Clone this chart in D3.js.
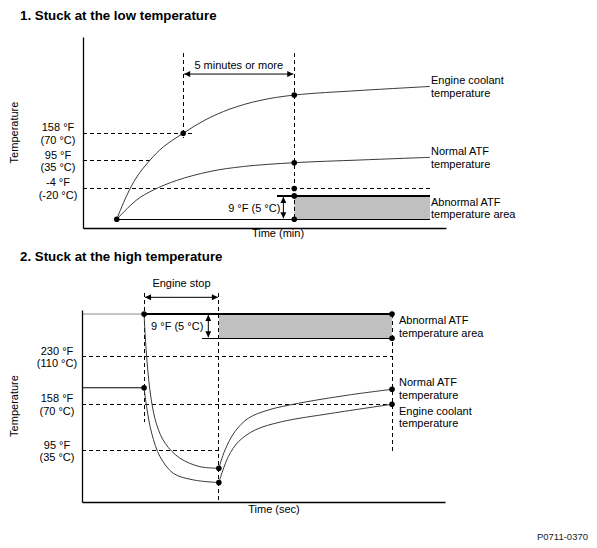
<!DOCTYPE html>
<html>
<head>
<meta charset="utf-8">
<script src="https://cdn.jsdelivr.net/npm/d3@7"></script>
<style>
  html, body { margin: 0; padding: 0; background: #fff; }
  svg { display: block; font-family: "Liberation Sans", Arial, sans-serif; }
</style>
</head>
<body>
<svg id="chart" width="597" height="548"></svg>
<script>
// ---------- Chart 1: Stuck at the low temperature (schematic units 0-100) ----------
const lowCoolant = [[9.3,4.6],[12.0,16.8],[14.8,26.7],[18.5,35.6],[22.1,42.4],[27.6,49.6],[33.6,56.5],[40.5,62.3],[48.8,66.8],[58.2,69.6],[76.3,72.0],[95.6,74.1]];
const lowATF = [[9.3,4.6],[14.8,14.7],[19.4,19.9],[25.8,24.9],[35.0,29.6],[44.2,32.2],[58.2,34.2],[76.3,35.6],[95.6,37.0]];
const lowLevels = [49.6, 35.3, 20.7];
const lowLevelLabels = [["158 °F", "(70 °C)"], ["95 °F", "(35 °C)"], ["-4 °F", "(-20 °C)"]];
const lowLevelEnd = [30.0, 18.5, 95.6];
const lowBand = [4.6, 16.8];
const lowTimes = [9.3, 27.6, 58.2, 95.6]; // start, 70 °C reached, judgement, end
const lowMarkers = [[9.3,4.6],[27.6,49.6],[58.2,69.6],[58.2,34.2],[58.2,20.7],[58.2,16.8],[58.2,4.6]];
const lowSeriesLabels = [["Engine coolant", "temperature"], ["Normal ATF", "temperature"], ["Abnormal ATF", "temperature area"]];
const lowSeriesLabelLevel = [74.1, 37.0, 10.7];

// ---------- Chart 2: Stuck at the high temperature ----------
const highATFDrop = [[17.1,97.9],[17.4,87.0],[18.0,71.4],[19.0,54.2],[20.6,40.1],[22.9,30.6],[27.0,22.8],[32.5,18.4],[37.7,17.6]];
const highCoolantDrop = [[17.1,59.5],[17.8,49.6],[19.2,35.8],[21.5,23.6],[25.2,14.9],[30.7,11.5],[37.7,10.1]];
const highATFRise = [[37.7,17.6],[39.4,27.1],[42.1,36.6],[45.8,43.6],[51.3,47.9],[59.6,51.4],[73.4,55.7],[85.4,58.7]];
const highCoolantRise = [[37.7,10.1],[40.3,23.6],[43.1,31.4],[47.7,37.5],[55.0,41.8],[68.8,46.2],[85.4,50.9]];
const highPreATF = [[0,97.9],[17.1,97.9]];
const highPreCoolant = [[0,59.5],[17.1,59.5]];
const highLevels = [75.7, 50.9, 26.7];
const highLevelLabels = [["230 °F", "(110 °C)"], ["158 °F", "(70 °C)"], ["95 °F", "(35 °C)"]];
const highLevelEnd = [85.4, 85.4, 37.7];
const highBand = [85.3, 97.9];
const highTimes = [17.1, 37.7, 85.4]; // engine stop, restart, end
const highMarkers = [[17.1,97.9],[17.1,59.5],[37.7,17.6],[37.7,10.1],[85.4,97.9],[85.4,85.3],[85.4,58.7],[85.4,50.9]];
const highSeriesLabels = [["Abnormal ATF", "temperature area"], ["Normal ATF", "temperature"], ["Engine coolant", "temperature"]];
const highSeriesLabelLevel = [91.6, 59.2, 44.3];

const titles = ["1. Stuck at the low temperature", "2. Stuck at the high temperature"];
const axisTitles = ["Temperature", "Time (min)", "Time (sec)"];
const bandText = "9 °F (5 °C)";
const spanTexts = ["5 minutes or more", "Engine stop"];
const footer = "P0711-0370";

// ---------- drawing ----------
const svg = d3.select("#chart");
const defs = svg.append("defs");
defs.append("marker").attr("id", "ah")
  .attr("viewBox", "0 0 10 10").attr("refX", 10).attr("refY", 5)
  .attr("markerUnits", "userSpaceOnUse").attr("markerWidth", 7).attr("markerHeight", 6)
  .attr("orient", "auto-start-reverse")
  .append("path").attr("d", "M0,0L10,5L0,10Z").attr("fill", "#000");

const xT = d3.scaleLinear([0, 100], [83, 446]);
const yT = d3.scaleLinear([0, 100], [228, 37]);
const xB = d3.scaleLinear([0, 100], [82, 445]);
const yB = d3.scaleLinear([0, 100], [502, 310]);

const FS = 11;
function hline(g, x, y, x0, x1, v, opts) {
  g.append("line").attr("x1", x(x0)).attr("x2", x(x1)).attr("y1", y(v)).attr("y2", y(v))
    .attr("stroke", opts.color || "#000").attr("stroke-width", opts.w || 1)
    .attr("stroke-dasharray", opts.dash || null)
    .attr("shape-rendering", "crispEdges");
}
function vline(g, x, y, t, v0, v1, opts) {
  g.append("line").attr("x1", x(t)).attr("x2", x(t)).attr("y1", y(v0)).attr("y2", y(v1))
    .attr("stroke", opts.color || "#000").attr("stroke-width", opts.w || 1)
    .attr("stroke-dasharray", opts.dash || null)
    .attr("shape-rendering", "crispEdges");
}
function curve(g, x, y, data, color) {
  g.append("path").datum(data)
    .attr("d", d3.line().x(d => x(d[0])).y(d => y(d[1])).curve(d3.curveCatmullRom.alpha(0.5)))
    .attr("fill", "none").attr("stroke", color || "#3a3a3a").attr("stroke-width", 1);
}
function dots(g, x, y, data) {
  g.selectAll(null).data(data).join("circle")
    .attr("cx", d => x(d[0])).attr("cy", d => y(d[1])).attr("r", 2.8).attr("fill", "#000");
}
function twoLine(g, px, py, lines, anchor, dy) {
  const t = g.append("text").attr("x", px).attr("y", py).attr("font-size", FS)
    .attr("text-anchor", anchor || "start").attr("fill", "#000");
  lines.forEach((s, i) => t.append("tspan").attr("x", px).attr("dy", i === 0 ? 0 : (dy || 12.5)).text(s));
}
function axes(g, x, y) {
  g.append("g").attr("transform", `translate(${x.range()[0]},0)`)
    .call(d3.axisLeft(y).tickValues([]).tickSizeOuter(0))
    .select(".domain").attr("stroke", "#000").attr("stroke-width", 1.3);
  g.append("g").attr("transform", `translate(0,${y.range()[0]})`)
    .call(d3.axisBottom(x).tickValues([]).tickSizeOuter(0))
    .select(".domain").attr("stroke", "#000").attr("stroke-width", 1.3);
}
const DASH = "4,3";

// ===== Chart 1 =====
{
  const g = svg.append("g");
  const x = xT, y = yT;
  g.append("text").attr("x", 20).attr("y", 19.5).attr("font-size", 13.3).attr("font-weight", "bold").text(titles[0]);

  g.append("rect").attr("x", x(lowTimes[2])).attr("y", y(lowBand[1]))
    .attr("width", x(lowTimes[3]) - x(lowTimes[2])).attr("height", y(lowBand[0]) - y(lowBand[1]))
    .attr("fill", "#c0c0c0");
  hline(g, x, y, 53.4, lowTimes[3], lowBand[1], { w: 1.2 });
  hline(g, x, y, lowTimes[0], lowTimes[3], lowBand[0], { w: 1.2 });

  lowLevels.forEach((v, i) => {
    hline(g, x, y, 0, lowLevelEnd[i], v, { dash: DASH });
    twoLine(g, 58, y(v) - 2, lowLevelLabels[i], "middle", 12.5);
  });

  vline(g, x, y, lowTimes[1], 91.6, 47.1, { dash: DASH });
  vline(g, x, y, lowTimes[2], 91.6, lowBand[0], { dash: DASH });

  g.append("line").attr("x1", x(lowTimes[1]) + 1).attr("x2", x(lowTimes[2]) - 1)
    .attr("y1", y(80.6)).attr("y2", y(80.6)).attr("stroke", "#000").attr("stroke-width", 1)
    .attr("marker-start", "url(#ah)").attr("marker-end", "url(#ah)");
  g.append("text").attr("x", (x(lowTimes[1]) + x(lowTimes[2])) / 2).attr("y", y(80.6) - 5)
    .attr("font-size", FS).attr("text-anchor", "middle").text(spanTexts[0]);

  g.append("line").attr("x1", x(55.2)).attr("x2", x(55.2))
    .attr("y1", y(lowBand[1]) + 1).attr("y2", y(lowBand[0]) - 1).attr("stroke", "#000")
    .attr("marker-start", "url(#ah)").attr("marker-end", "url(#ah)");
  g.append("text").attr("x", x(55.2) - 3).attr("y", (y(lowBand[0]) + y(lowBand[1])) / 2 + 4)
    .attr("font-size", FS).attr("text-anchor", "end").text(bandText);

  curve(g, x, y, lowCoolant);
  curve(g, x, y, lowATF);
  dots(g, x, y, lowMarkers);
  axes(g, x, y);

  lowSeriesLabels.forEach((l, i) => twoLine(g, x(lowTimes[3]) + 1, y(lowSeriesLabelLevel[i]) - 2, l, "start", 12.5));

  g.append("text").attr("transform", `translate(17.5,${(y(0) + y(100)) / 2}) rotate(-90)`)
    .attr("font-size", FS).attr("text-anchor", "middle").text(axisTitles[0]);
  g.append("text").attr("x", 278).attr("y", 237).attr("font-size", FS).attr("text-anchor", "middle").text(axisTitles[1]);
}

// ===== Chart 2 =====
{
  const g = svg.append("g");
  const x = xB, y = yB;
  g.append("text").attr("x", 20).attr("y", 260.5).attr("font-size", 13.3).attr("font-weight", "bold").text(titles[1]);

  g.append("rect").attr("x", x(highTimes[1])).attr("y", y(highBand[1]))
    .attr("width", x(highTimes[2]) - x(highTimes[1])).attr("height", y(highBand[0]) - y(highBand[1]))
    .attr("fill", "#c0c0c0");
  hline(g, x, y, highTimes[0], highTimes[2], highBand[1], { w: 1.2 });
  hline(g, x, y, 33.0, highTimes[2], highBand[0], { w: 1.2 });

  highLevels.forEach((v, i) => {
    hline(g, x, y, 0, highLevelEnd[i], v, { dash: DASH });
    twoLine(g, 57, y(v) - 2, highLevelLabels[i], "middle", 12.5);
  });

  vline(g, x, y, highTimes[0], 108.9, 41.8, { dash: DASH });
  vline(g, x, y, highTimes[1], 108.9, 0, { dash: DASH });
  vline(g, x, y, highTimes[2], highBand[1], 26.0, { dash: DASH });

  g.append("line").attr("x1", x(highTimes[0]) + 1).attr("x2", x(highTimes[1]) - 1)
    .attr("y1", y(106.6)).attr("y2", y(106.6)).attr("stroke", "#000")
    .attr("marker-start", "url(#ah)").attr("marker-end", "url(#ah)");
  g.append("text").attr("x", (x(highTimes[0]) + x(highTimes[1])) / 2).attr("y", y(106.6) - 10)
    .attr("font-size", FS).attr("text-anchor", "middle").text(spanTexts[1]);

  g.append("line").attr("x1", x(34.8)).attr("x2", x(34.8))
    .attr("y1", y(highBand[1]) + 1).attr("y2", y(highBand[0]) - 1).attr("stroke", "#000")
    .attr("marker-start", "url(#ah)").attr("marker-end", "url(#ah)");
  g.append("text").attr("x", x(34.8) - 5).attr("y", (y(highBand[0]) + y(highBand[1])) / 2 + 4)
    .attr("font-size", FS).attr("text-anchor", "end").text(bandText);

  curve(g, x, y, highPreATF, "#8a8a8a");
  curve(g, x, y, highPreCoolant, "#000");
  curve(g, x, y, highATFDrop);
  curve(g, x, y, highCoolantDrop);
  curve(g, x, y, highATFRise);
  curve(g, x, y, highCoolantRise);
  dots(g, x, y, highMarkers);
  axes(g, x, y);

  highSeriesLabels.forEach((l, i) => twoLine(g, x(highTimes[2]) + 7, y(highSeriesLabelLevel[i]) - 2, l, "start", 12.5));

  g.append("text").attr("transform", `translate(17.5,${(y(0) + y(100)) / 2}) rotate(-90)`)
    .attr("font-size", FS).attr("text-anchor", "middle").text(axisTitles[0]);
  g.append("text").attr("x", 274).attr("y", 513).attr("font-size", FS).attr("text-anchor", "middle").text(axisTitles[2]);
}

svg.append("text").attr("x", 588).attr("y", 539.5).attr("font-size", 9.5)
  .attr("text-anchor", "end").attr("fill", "#222").text(footer);
</script>
</body>
</html>
